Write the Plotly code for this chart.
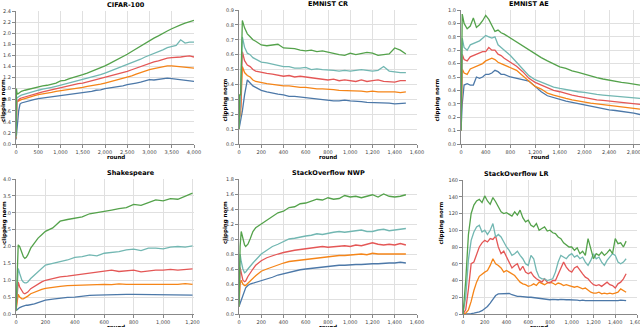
import plotly.graph_objects as go

# ── Colors (vega tableau) ─────────────────────────────
BLUE, ORANGE, RED, TEAL, GREEN = "#4c78a8", "#f58518", "#e45756", "#72b7b2", "#54a24b"
SERIES_COLORS = [BLUE, ORANGE, RED, TEAL, GREEN]

# ── CIFAR-100 ─────────────────────────────────────────
cifar_x = [0, 10, 20, 40, 60, 90, 120] + list(range(200, 4001, 100))
cifar_blue = [0.08, 0.2, 0.3, 0.42, 0.6, 0.72, 0.74, 0.76, 0.78, 0.8, 0.82, 0.83, 0.845, 0.86, 0.865,
              0.88, 0.885, 0.9, 0.905, 0.92, 0.93, 0.935, 0.95, 0.97, 0.975, 1.0, 1.01, 1.025, 1.04,
              1.05, 1.07, 1.08, 1.1, 1.115, 1.14, 1.16, 1.155, 1.17, 1.18, 1.19, 1.18, 1.17, 1.165,
              1.15, 1.14, 1.13]
cifar_orange = [0.1, 0.6, 0.76, 0.77, 0.78, 0.79, 0.8, 0.82, 0.85, 0.87, 0.89, 0.9, 0.92, 0.93, 0.95,
                0.96, 0.97, 0.98, 1.0, 1.01, 1.02, 1.04, 1.05, 1.06, 1.08, 1.1, 1.12, 1.14, 1.16,
                1.19, 1.21, 1.23, 1.26, 1.29, 1.32, 1.34, 1.36, 1.38, 1.4, 1.41, 1.41, 1.4, 1.395,
                1.38, 1.38, 1.37]
cifar_red = [0.12, 0.72, 0.76, 0.78, 0.8, 0.82, 0.83, 0.85, 0.88, 0.9, 0.92, 0.94, 0.96, 0.98, 1.0,
             1.02, 1.03, 1.05, 1.07, 1.09, 1.1, 1.12, 1.14, 1.16, 1.18, 1.2, 1.22, 1.24, 1.27,
             1.29, 1.31, 1.34, 1.37, 1.4, 1.43, 1.45, 1.48, 1.5, 1.53, 1.55, 1.56, 1.56, 1.57,
             1.58, 1.59, 1.57]
cifar_teal = [0.12, 0.8, 0.84, 0.84, 0.86, 0.87, 0.88, 0.9, 0.93, 0.95, 0.97, 0.99, 1.0, 1.02, 1.04,
              1.06, 1.08, 1.1, 1.12, 1.14, 1.16, 1.18, 1.21, 1.23, 1.25, 1.28, 1.31, 1.34, 1.37,
              1.4, 1.43, 1.46, 1.5, 1.53, 1.57, 1.6, 1.64, 1.67, 1.7, 1.74, 1.76, 1.78, 1.88,
              1.82, 1.84, 1.84]
cifar_green = [0.15, 1.0, 0.93, 0.9, 0.91, 0.93, 0.95, 0.97, 0.99, 1.02, 1.03, 1.05, 1.06, 1.08, 1.1,
               1.14, 1.15, 1.18, 1.2, 1.23, 1.25, 1.28, 1.31, 1.34, 1.37, 1.41, 1.45, 1.49, 1.53,
               1.58, 1.62, 1.67, 1.72, 1.77, 1.82, 1.86, 1.91, 1.95, 2.0, 2.04, 2.08, 2.12, 2.15,
               2.18, 2.21, 2.23]

# ── EMNIST CR ─────────────────────────────────────────
cr_x = [0, 5, 15, 30, 50, 75, 100, 125, 150] + list(range(200, 1501, 50))
cr_blue = [0.1, 0.12, 0.16, 0.22, 0.33, 0.43, 0.41, 0.39, 0.38, 0.36, 0.35, 0.34, 0.335, 0.33, 0.32,
           0.32, 0.315, 0.31, 0.305, 0.305, 0.3, 0.29, 0.29, 0.29, 0.295, 0.29, 0.285, 0.285, 0.28,
           0.28, 0.275, 0.28, 0.275, 0.27, 0.275, 0.275]
cr_orange = [0.1, 0.18, 0.2, 0.52, 0.48, 0.46, 0.45, 0.43, 0.42, 0.41, 0.405, 0.4, 0.395, 0.39, 0.39,
             0.385, 0.38, 0.38, 0.375, 0.37, 0.37, 0.365, 0.365, 0.36, 0.36, 0.355, 0.36, 0.355,
             0.35, 0.355, 0.35, 0.35, 0.355, 0.35, 0.345, 0.35]
cr_red = [0.1, 0.2, 0.25, 0.62, 0.56, 0.53, 0.52, 0.5, 0.49, 0.48, 0.475, 0.47, 0.46, 0.455, 0.46,
          0.45, 0.455, 0.45, 0.445, 0.44, 0.44, 0.43, 0.435, 0.425, 0.43, 0.425, 0.42, 0.43, 0.42,
          0.425, 0.43, 0.42, 0.42, 0.415, 0.425, 0.425]
cr_teal = [0.1, 0.15, 0.35, 0.72, 0.65, 0.61, 0.6, 0.58, 0.57, 0.55, 0.545, 0.535, 0.53, 0.52, 0.52,
           0.51, 0.51, 0.515, 0.5, 0.505, 0.5, 0.5, 0.495, 0.49, 0.495, 0.49, 0.495, 0.5, 0.495,
           0.49, 0.495, 0.52, 0.49, 0.485, 0.48, 0.48]
cr_green = [0.1, 0.33, 0.33, 0.83, 0.78, 0.74, 0.72, 0.7, 0.69, 0.665, 0.66, 0.665, 0.67, 0.645, 0.645,
            0.64, 0.63, 0.625, 0.63, 0.62, 0.625, 0.615, 0.61, 0.6, 0.595, 0.61, 0.6, 0.605, 0.615,
            0.61, 0.595, 0.6, 0.605, 0.645, 0.63, 0.605]

# ── EMNIST AE ─────────────────────────────────────────
ae_x = [0, 20, 50, 100, 150, 200, 250, 300, 350, 400, 450, 500, 550, 600, 650] + list(range(700, 2901, 100))
ae_blue = [0.1, 0.3, 0.44, 0.45, 0.44, 0.44, 0.5, 0.49, 0.5, 0.52, 0.52, 0.53, 0.55, 0.54, 0.52,
           0.52, 0.5, 0.49, 0.48, 0.47, 0.43, 0.39, 0.36, 0.345, 0.33, 0.32, 0.31, 0.3, 0.29,
           0.28, 0.27, 0.265, 0.255, 0.25, 0.245, 0.235, 0.23, 0.22]
ae_orange = [0.1, 0.56, 0.53, 0.52, 0.56, 0.57, 0.58, 0.59, 0.6, 0.62, 0.63, 0.64, 0.63, 0.61, 0.6,
             0.59, 0.57, 0.55, 0.51, 0.47, 0.43, 0.41, 0.38, 0.365, 0.35, 0.34, 0.33, 0.32, 0.31,
             0.305, 0.3, 0.295, 0.29, 0.285, 0.28, 0.275, 0.265, 0.26]
ae_red = [0.1, 0.67, 0.63, 0.62, 0.65, 0.66, 0.67, 0.68, 0.69, 0.69, 0.72, 0.7, 0.7, 0.67, 0.66,
          0.64, 0.61, 0.58, 0.54, 0.49, 0.46, 0.44, 0.42, 0.4, 0.39, 0.375, 0.365, 0.355, 0.345,
          0.34, 0.33, 0.325, 0.32, 0.315, 0.31, 0.305, 0.3, 0.295]
ae_teal = [0.1, 0.79, 0.72, 0.7, 0.74, 0.75, 0.76, 0.77, 0.79, 0.81, 0.8, 0.79, 0.8, 0.74, 0.72,
           0.7, 0.66, 0.61, 0.56, 0.51, 0.48, 0.46, 0.44, 0.425, 0.415, 0.405, 0.4, 0.39, 0.385,
           0.375, 0.37, 0.365, 0.36, 0.355, 0.35, 0.35, 0.345, 0.34]
ae_green = [0.1, 0.97, 0.9, 0.86, 0.88, 0.94, 0.87, 0.89, 0.92, 0.96, 0.93, 0.88, 0.84, 0.85, 0.83,
            0.82, 0.79, 0.76, 0.73, 0.7, 0.67, 0.645, 0.62, 0.6, 0.575, 0.565, 0.545, 0.535, 0.52,
            0.505, 0.495, 0.485, 0.475, 0.465, 0.46, 0.455, 0.445, 0.44]

# ── Shakespeare ───────────────────────────────────────
sh_x = [0, 8, 15, 25, 40, 50, 60, 70, 80, 100, 125, 150, 175] + list(range(200, 1201, 50))
sh_blue = [0.1, 0.13, 0.16, 0.19, 0.22, 0.24, 0.25, 0.26, 0.26, 0.27, 0.3, 0.34, 0.38, 0.41, 0.44,
           0.47, 0.49, 0.5, 0.53, 0.55, 0.56, 0.57, 0.57, 0.57, 0.58, 0.58, 0.58, 0.57, 0.58,
           0.58, 0.57, 0.58, 0.57, 0.56]
sh_orange = [0.1, 0.35, 0.58, 0.5, 0.45, 0.45, 0.47, 0.5, 0.53, 0.6, 0.65, 0.7, 0.73, 0.76, 0.8,
             0.82, 0.84, 0.85, 0.86, 0.87, 0.87, 0.88, 0.87, 0.89, 0.88, 0.88, 0.87, 0.89, 0.88,
             0.88, 0.89, 0.88, 0.9, 0.88]
sh_red = [0.1, 0.6, 0.95, 0.8, 0.68, 0.62, 0.6, 0.62, 0.65, 0.75, 0.82, 0.9, 0.95, 1.0, 1.05,
          1.1, 1.12, 1.15, 1.18, 1.2, 1.22, 1.25, 1.3, 1.26, 1.28, 1.3, 1.25, 1.28, 1.3,
          1.3, 1.32, 1.3, 1.32, 1.34]
sh_teal = [0.1, 0.8, 1.35, 1.2, 1.0, 0.95, 0.92, 0.92, 0.95, 1.05, 1.15, 1.25, 1.35, 1.45, 1.5,
           1.55, 1.6, 1.68, 1.7, 1.75, 1.72, 1.8, 1.82, 1.85, 1.9, 1.92, 1.88, 1.95, 1.95,
           1.93, 1.98, 2.0, 1.98, 2.02]
sh_green = [0.1, 1.2, 2.05, 2.0, 1.8, 1.7, 1.65, 1.68, 1.75, 1.95, 2.1, 2.25, 2.35, 2.45, 2.55,
            2.75, 2.8, 2.85, 2.88, 2.97, 3.0, 3.05, 3.08, 3.12, 3.15, 3.25, 3.22, 3.3, 3.38,
            3.35, 3.42, 3.4, 3.5, 3.58]

# ── StackOverflow NWP ─────────────────────────────────
nwp_x = [0, 10, 20, 35, 50, 60, 80, 100, 125, 150, 175] + list(range(200, 1501, 50))
nwp_blue = [0.1, 0.14, 0.18, 0.25, 0.31, 0.35, 0.38, 0.4, 0.41, 0.42, 0.43, 0.44, 0.47, 0.49, 0.52,
            0.54, 0.56, 0.57, 0.59, 0.6, 0.61, 0.62, 0.63, 0.63, 0.64, 0.65, 0.65, 0.66, 0.66,
            0.66, 0.67, 0.67, 0.67, 0.68, 0.68, 0.68, 0.69, 0.68]
nwp_orange = [0.1, 0.4, 0.45, 0.4, 0.38, 0.38, 0.41, 0.44, 0.48, 0.51, 0.54, 0.57, 0.6, 0.63, 0.66,
              0.68, 0.7, 0.71, 0.72, 0.73, 0.74, 0.75, 0.76, 0.77, 0.77, 0.78, 0.78, 0.79, 0.79,
              0.8, 0.79, 0.81, 0.8, 0.8, 0.81, 0.8, 0.81, 0.8]
nwp_red = [0.1, 0.62, 0.55, 0.45, 0.43, 0.44, 0.5, 0.55, 0.6, 0.65, 0.68, 0.71, 0.75, 0.78, 0.8,
           0.82, 0.84, 0.85, 0.86, 0.87, 0.88, 0.89, 0.9, 0.89, 0.9, 0.91, 0.91, 0.9, 0.92,
           0.91, 0.93, 0.95, 0.93, 0.92, 0.93, 0.92, 0.94, 0.92]
nwp_teal = [0.1, 0.8, 0.7, 0.6, 0.55, 0.56, 0.6, 0.63, 0.68, 0.72, 0.76, 0.8, 0.85, 0.9, 0.93,
            0.97, 1.0, 1.01, 1.03, 1.04, 1.05, 1.07, 1.06, 1.08, 1.09, 1.1, 1.09, 1.1, 1.11,
            1.12, 1.1, 1.1, 1.12, 1.13, 1.11, 1.12, 1.14, 1.14]
nwp_green = [0.1, 0.9, 1.1, 1.0, 0.92, 0.9, 0.93, 1.0, 1.1, 1.15, 1.18, 1.2, 1.25, 1.3, 1.35,
             1.37, 1.42, 1.43, 1.47, 1.48, 1.5, 1.53, 1.52, 1.55, 1.53, 1.54, 1.58, 1.56, 1.57,
             1.55, 1.57, 1.59, 1.56, 1.6, 1.57, 1.56, 1.57, 1.59]

# ── StackOverflow LR ──────────────────────────────────
lr_x = list(range(0, 1501, 25))
lr_blue = [0, 0, 0, 0.5, 1, 1.5, 2.5, 4, 6, 9, 13, 18, 22, 24, 24, 24.5, 24, 24.5, 23, 22, 21,
           21, 20.5, 20, 20, 20, 19.5, 19, 19, 18.5, 18, 17, 17, 17.5, 17, 17, 17.5, 17, 17, 17,
           17, 16.5, 16.5, 16, 16.5, 16, 16, 16, 16, 15.5, 16, 16, 16, 15.5, 16, 16, 15.5, 16,
           16.5, 16, 16]
lr_orange = [0, 1, 5, 15, 28, 38, 45, 48, 50, 52, 58, 66, 60, 58, 55, 50, 52, 50, 48, 46, 42,
             38, 36, 35, 33, 34, 36, 34, 38, 36, 35, 37, 38, 37, 35, 37, 36, 34, 35, 34,
             33, 32, 33, 31, 30, 31, 28, 26, 25, 25, 26, 24, 25, 24, 25, 24, 25, 26, 30, 28, 26]
lr_red = [0, 5, 30, 60, 62, 72, 80, 85, 88, 86, 90, 89, 93, 80, 72, 75, 68, 62, 55, 58, 60,
          52, 57, 50, 48, 50, 45, 42, 40, 38, 42, 38, 37, 40, 40, 48, 55, 62, 56, 52,
          50, 55, 57, 52, 48, 44, 42, 38, 35, 34, 35, 33, 35, 38, 35, 34, 31, 36, 38, 42, 48]
lr_teal = [0, 20, 65, 88, 98, 104, 106, 98, 100, 95, 100, 108, 92, 95, 92, 85, 80, 76, 70, 72, 75,
           70, 66, 60, 58, 70, 66, 52, 44, 42, 42, 40, 41, 42, 50, 62, 70, 68, 66, 70,
           72, 68, 70, 66, 68, 62, 58, 64, 72, 66, 68, 62, 58, 64, 68, 72, 70, 62, 60, 62, 66]
lr_green = [0, 40, 95, 120, 130, 135, 137, 133, 141, 135, 131, 139, 134, 127, 122, 120, 121, 119,
            117, 122, 118, 124, 115, 110, 112, 106, 104, 108, 100, 102, 104, 99, 100, 97, 96, 92,
            90, 85, 82, 80, 80, 76, 79, 72, 75, 70, 90, 78, 66, 72, 70, 74, 70, 73, 77, 72, 90,
            84, 85, 80, 87]

PANELS = [
    dict(title="CIFAR-100", x=cifar_x,
         ys=[cifar_blue, cifar_orange, cifar_red, cifar_teal, cifar_green],
         xr=[0, 4000], xd=500, yr=[0, 2.4], yd=0.2, yfmt=".1f",
         dom_x=[16, 194], dom_y=[11, 144], ylab_x=4),
    dict(title="EMNIST CR", x=cr_x,
         ys=[cr_blue, cr_orange, cr_red, cr_teal, cr_green],
         xr=[0, 1600], xd=200, yr=[0, 0.9], yd=0.1, yfmt=".1f",
         dom_x=[239, 417], dom_y=[10, 144], ylab_x=225),
    dict(title="EMNIST AE", x=ae_x,
         ys=[ae_blue, ae_orange, ae_red, ae_teal, ae_green],
         xr=[0, 2900], xd=400, yr=[0, 1.0], yd=0.1, yfmt=".1f",
         dom_x=[461, 640], dom_y=[10, 144], ylab_x=437),
    dict(title="Shakespeare", x=sh_x,
         ys=[sh_blue, sh_orange, sh_red, sh_teal, sh_green],
         xr=[0, 1210], xd=200, yr=[0, 4.0], yd=0.5, yfmt=".1f",
         dom_x=[16, 194], dom_y=[179, 314], ylab_x=4),
    dict(title="StackOverflow NWP", x=nwp_x,
         ys=[nwp_blue, nwp_orange, nwp_red, nwp_teal, nwp_green],
         xr=[0, 1600], xd=200, yr=[0, 1.8], yd=0.2, yfmt=".1f",
         dom_x=[239, 417], dom_y=[179, 314], ylab_x=225),
    dict(title="StackOverflow LR", x=lr_x,
         ys=[lr_blue, lr_orange, lr_red, lr_teal, lr_green],
         xr=[0, 1600], xd=200, yr=[0, 160], yd=20, yfmt="d",
         dom_x=[463, 637], dom_y=[180, 314], ylab_x=441),
]

W, H = 640, 327
FONT = "DejaVu Sans"
AXIS_COLOR = "#888888"
GRID = "#e0e0e0"

fig = go.Figure()
layout = {}
annotations = []

for i, p in enumerate(PANELS):
    n = i + 1
    xa = "x" if n == 1 else f"x{n}"
    ya = "y" if n == 1 else f"y{n}"
    for ys, col in zip(p["ys"], SERIES_COLORS):
        fig.add_trace(go.Scatter(
            x=p["x"], y=ys, mode="lines", xaxis=xa, yaxis=ya,
            line=dict(color=col, width=1.3), showlegend=False,
        ))

    x0, x1 = p["dom_x"]
    ytop, ybot = p["dom_y"]
    common = dict(
        showline=True, linecolor=AXIS_COLOR, linewidth=1,
        ticks="outside", ticklen=3, tickcolor=AXIS_COLOR,
        showgrid=True, gridcolor=GRID, gridwidth=1, zeroline=False,
        tickfont=dict(family=FONT, size=5, color="#444"),
        automargin=False, ticklabeloverflow="allow",
    )
    layout["xaxis" if n == 1 else f"xaxis{n}"] = dict(
        common, domain=[x0 / W, x1 / W], range=p["xr"], dtick=p["xd"], tick0=0,
        tickformat=",d", anchor=ya,
    )
    layout["yaxis" if n == 1 else f"yaxis{n}"] = dict(
        common, domain=[1 - ybot / H, 1 - ytop / H], range=p["yr"], dtick=p["yd"], tick0=0,
        tickformat=p["yfmt"], anchor=xa,
    )

    cx = (x0 + x1) / 2 / W
    annotations.append(dict(
        text=f"<b>{p['title']}</b>", x=cx, y=1 - (ytop - 6) / H, xref="paper", yref="paper",
        showarrow=False, font=dict(family=FONT, size=6.5, color="#000"), yanchor="middle",
    ))
    annotations.append(dict(
        text="<b>round</b>", x=cx, y=1 - (ybot + 13) / H, xref="paper", yref="paper",
        showarrow=False, font=dict(family=FONT, size=5.5, color="#000"), yanchor="middle",
    ))
    annotations.append(dict(
        text="<b>clipping norm</b>", x=p["ylab_x"] / W, y=1 - (ytop + ybot) / 2 / H,
        xref="paper", yref="paper", textangle=-90, showarrow=False,
        font=dict(family=FONT, size=5.5, color="#000"), xanchor="center",
    ))

fig.update_layout(
    **layout,
    annotations=annotations,
    width=W, height=H,
    margin=dict(l=0, r=0, t=0, b=0, autoexpand=False),
    paper_bgcolor="white", plot_bgcolor="white",
    showlegend=False,
)

# drop the default 8px body margin so the figure sits at the window origin
fig.write_html(
    "out.html",
    config={"displayModeBar": False},
    post_script="document.body.style.margin='0';document.body.style.overflow='hidden';",
)
